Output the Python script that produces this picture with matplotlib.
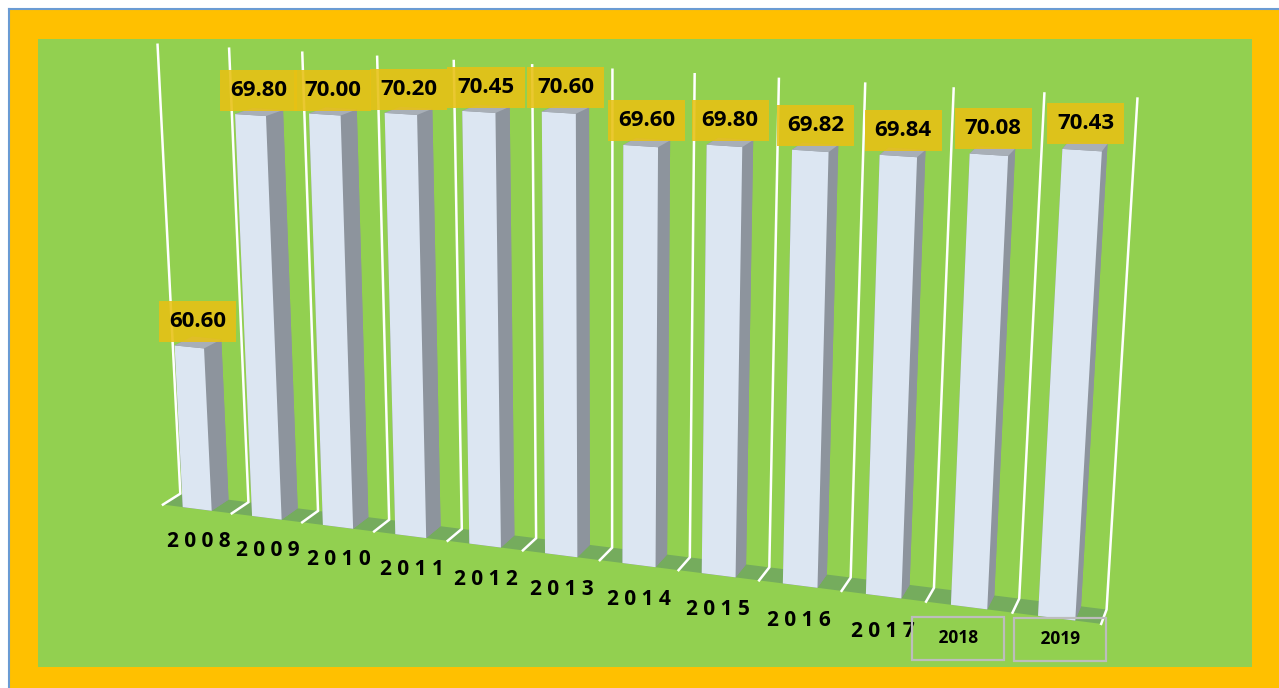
import numpy as np
import matplotlib
matplotlib.use("Agg")
import matplotlib.pyplot as plt
from matplotlib.patches import Rectangle
from matplotlib.lines import Line2D
from mpl_toolkits.mplot3d.art3d import Poly3DCollection

# yearly values
years = ["2008", "2009", "2010", "2011", "2012", "2013",
         "2014", "2015", "2016", "2017", "2018", "2019"]
values = [60.60, 69.80, 70.00, 70.20, 70.45, 70.60,
          69.60, 69.80, 69.82, 69.84, 70.08, 70.43]
boxed_years = ["2018", "2019"]

z_min, z_max = 54, 72

ORANGE = "#FFC000"
GREEN = "#92D050"
FLOOR = "#75AC5D"
FRONT = "#DCE6F2"
SIDE = "#8D949D"
TOP = "#A8AFB7"
LABEL_BG = "#E8C114"
FONT = "Open Sans"

W, H = 1279, 688
fig = plt.figure(figsize=(W / 100, H / 100), dpi=100)

# frame: orange border, green panel, thin blue outline on the top/left
fig.add_artist(Rectangle((9 / W, 0), 1 - 9 / W, 1 - 9 / H, transform=fig.transFigure,
                         facecolor=ORANGE, edgecolor="none", zorder=-3))
fig.add_artist(Rectangle((38 / W, 21 / H), 1214 / W, 628 / H, transform=fig.transFigure,
                         facecolor=GREEN, edgecolor="none", zorder=-2))
fig.add_artist(Line2D([8.5 / W, 8.5 / W], [0, 1 - 8.5 / H], transform=fig.transFigure,
                      color="#6A9BD3", lw=1.5, zorder=-1))
fig.add_artist(Line2D([8.5 / W, 1], [1 - 8.5 / H, 1 - 8.5 / H], transform=fig.transFigure,
                      color="#6A9BD3", lw=1.5, zorder=-1))

# square 3d axes, placed so the box centre lands mid-chart
S = 1095
cx, cy = 606, 368
rect = [(cx - 0.5135 * S) / W, (cy - 0.5135 * S) / H, S / W, S / H]
ax = fig.add_axes(rect, projection="3d", computed_zorder=False)
ax.set_proj_type("persp", focal_length=0.391)
ax.view_init(elev=15.1, azim=-70.6)
ax.set_box_aspect((12, 0.45, 5.91), zoom=1.0)
n = len(years)
ax.set_xlim(-0.5, n - 0.5)
ax.set_ylim(0, 1)
ax.set_zlim(z_min, z_max)
ax.set_xticks([])
ax.set_yticks([])
ax.set_zticks([])
ax.set_axis_off()
ax.patch.set_visible(False)

xs = np.arange(n)
x0, x1 = -0.5, n - 0.5

# floor
floor = Poly3DCollection([[(x0, 0, z_min), (x1, 0, z_min), (x1, 1, z_min), (x0, 1, z_min)]],
                         facecolor=FLOOR, edgecolor="none", zorder=1)
ax.add_collection3d(floor)

# category gridlines: across the floor, then up the back
for xb in np.arange(n + 1) - 0.5:
    ax.plot([xb, xb, xb], [0, 1, 1], [z_min, z_min, z_max],
            color="white", lw=1.8, zorder=2, solid_joinstyle="miter")

# bars: faces are bottom, top, front, back, left, right
bw = 0.42
face_colors = [SIDE, TOP, FRONT, SIDE, SIDE, SIDE] * n
ax.bar3d(xs - bw / 2, np.zeros(n), np.full(n, z_min), bw, 1.0,
         np.array(values) - z_min, color=face_colors, shade=False,
         linewidth=0, zorder=3)

# value labels
for x, v in zip(xs, values):
    ax.text(x, 0.5, v + 0.4, f"{v:.2f}", ha="center", va="bottom",
            fontsize=16, fontweight="bold", family=FONT, color="black",
            bbox=dict(boxstyle="square,pad=0.45", facecolor=LABEL_BG,
                      edgecolor="none", alpha=0.88), zorder=4)

# category labels; the last two sit in outlined boxes on one line
for x, yr in zip(xs, years):
    if yr in boxed_years:
        first = yr == boxed_years[0]
        drop = 1.22 if first else 0.76
        nudge = -0.11 if first else 0.05
        ax.text(x + nudge, 0, z_min - drop, "   " + yr + "   ", ha="center", va="center",
                fontsize=12.5, fontweight="bold", family=FONT, color="black",
                bbox=dict(boxstyle="square,pad=0.72", facecolor="none",
                          edgecolor="#BDBDBD", lw=1.6), zorder=4)
    else:
        ax.text(x, 0, z_min - 1.35, " ".join(yr), ha="center", va="center",
                fontsize=15, fontweight="bold", family=FONT, color="black",
                zorder=4)

fig.savefig("out.png", dpi=100)
